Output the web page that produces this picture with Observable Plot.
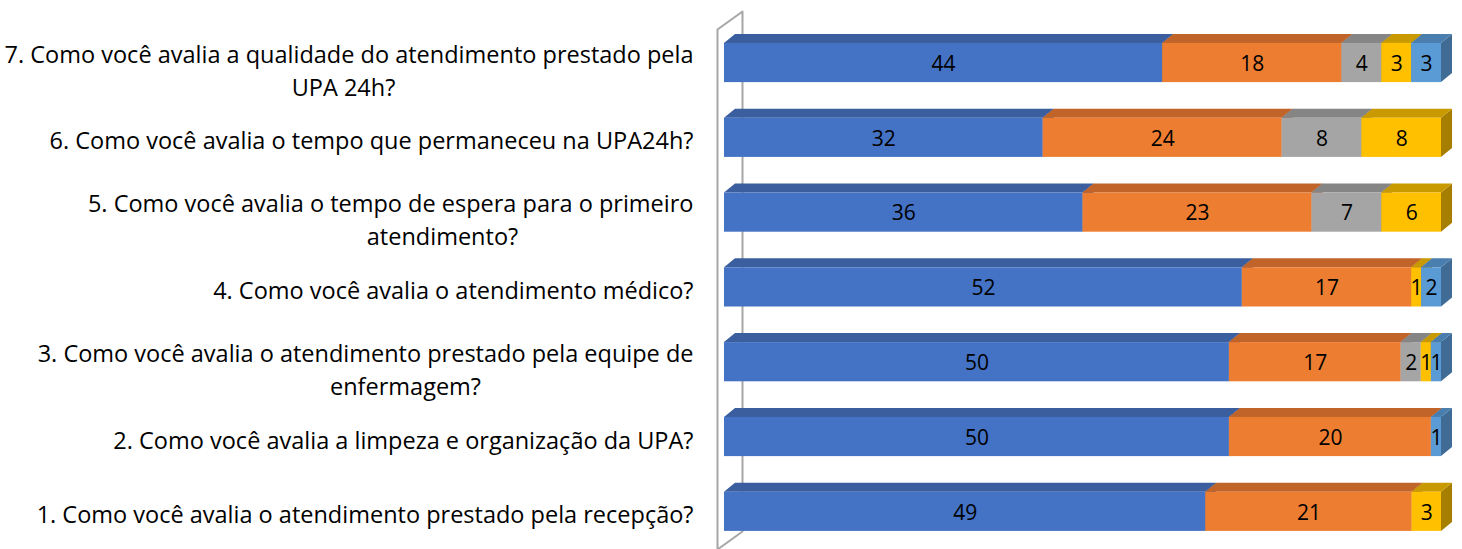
<!DOCTYPE html>
<html><head><meta charset="utf-8">
<script src="https://cdn.jsdelivr.net/npm/d3@7"></script>
<script src="https://cdn.jsdelivr.net/npm/@observablehq/plot@0.6"></script>
<style>html,body{margin:0;padding:0;background:#fff} #chart svg{display:block}</style>
</head><body><div id="chart"></div>
<script>
// ---------- data ----------
const questions = [
  "1. Como você avalia o atendimento prestado pela recepção?",
  "2. Como você avalia a limpeza e organização da UPA?",
  "3. Como você avalia o atendimento prestado pela equipe de\nenfermagem?",
  "4. Como você avalia o atendimento médico?",
  "5. Como você avalia o tempo de espera para o primeiro\natendimento?",
  "6. Como você avalia o tempo que permaneceu na UPA24h?",
  "7. Como você avalia a qualidade do atendimento prestado pela\nUPA 24h?"
];
const seriesNames = ["Série 1", "Série 2", "Série 3", "Série 4", "Série 5"];
const serie1 = [49, 50, 50, 52, 36, 32, 44];
const serie2 = [21, 20, 17, 17, 23, 24, 18];
const serie3 = [0, 0, 2, 0, 7, 8, 4];
const serie4 = [3, 0, 1, 1, 6, 8, 3];
const serie5 = [0, 1, 1, 2, 0, 0, 3];
const seriesValues = [serie1, serie2, serie3, serie4, serie5];

// ---------- style ----------
const frontColors = ["#4472C4", "#ED7D31", "#A5A5A5", "#FFC000", "#5B9BD5"];
const topColors   = ["#3A5E9E", "#C0642A", "#858585", "#C99A00", "#4A7EAE"];
const sideColors  = ["#2F4F87", "#A35424", "#6F6F6F", "#A67F00", "#3F6B94"];
// horizontal offset (px, relative to the bar origin) of centre of wrapped 2nd label lines
const line2Center = {2: -319, 4: -282, 6: -381};

// ---------- layout ----------
const W = 1462, H = 549, X0 = 724, X1 = 1441;
const pxPerUnitY = 74.8, yFirst = 511.3;
const yDomain = [(yFirst - H) / pxPerUnitY, yFirst / pxPerUnitY];
const halfH = 19.6 / pxPerUnitY;
const depthX = 11 / (X1 - X0), depthY = 9 / pxPerUnitY;
const xd = p => (p - X0) / (X1 - X0);
const yd = p => (yFirst - p) / pxPerUnitY;

// ---------- build geometry from data ----------
const fronts = [], tops = [], sides = [], labels = [];
questions.forEach((q, i) => {
  const vals = seriesValues.map(s => s[i]);
  const total = d3.sum(vals);
  let cum = 0;
  vals.forEach((v, k) => {
    if (v <= 0) return;
    const a = cum / total, b = (cum + v) / total;
    cum += v;
    const key = i + "-" + k;
    fronts.push({q: i, series: seriesNames[k], x1: a, x2: b, y1: i - halfH, y2: i + halfH, fill: frontColors[k], v, xm: (a + b) / 2, y: i});
    tops.push({key, y: i + halfH, x1: a, x2: b, fill: topColors[k]});
    tops.push({key, y: i + halfH + depthY, x1: a + depthX, x2: b + depthX, fill: topColors[k]});
    sides.push({key, x: b, y1: i - halfH, y2: i + halfH, fill: sideColors[k]});
    sides.push({key, x: b + depthX, y1: i - halfH + depthY, y2: i + halfH + depthY, fill: sideColors[k]});
  });
  const lines = q.split("\n");
  labels.push({y: i, line1: lines[0], line2: lines[1] || null, two: lines.length > 1, c2: line2Center[i] || 0});
});

const wallPx = [[717, 549], [717, 29], [742, 11], [742, 531], [717, 549]];
const wall = wallPx.map(([px, py]) => ({x: xd(px), y: yd(py)}));

const single = labels.filter(d => !d.two);
const double = labels.filter(d => d.two);
const labelFont = 23.5, numFont = 21;

const chart = Plot.plot({
  width: W, height: H,
  marginLeft: X0, marginRight: W - X1, marginTop: 0, marginBottom: 0,
  x: {domain: [0, 1], axis: null},
  y: {domain: yDomain, axis: null},
  color: {type: "identity"},
  style: {fontFamily: "'Open Sans', Lato, sans-serif", background: "white", overflow: "visible"},
  marks: [
    Plot.line(wall, {x: "x", y: "y", stroke: "#A6A6A6", strokeWidth: 2}),
    Plot.areaY(sides, {x: "x", y1: "y1", y2: "y2", z: "key", fill: "fill", curve: "linear"}),
    Plot.areaX(tops, {y: "y", x1: "x1", x2: "x2", z: "key", fill: "fill", curve: "linear"}),
    Plot.rect(fronts, {x1: "x1", x2: "x2", y1: "y1", y2: "y2", fill: "fill"}),
    Plot.text(fronts, {x: "xm", y: "y", text: "v", fill: "black", fontSize: numFont, dy: 1}),
    Plot.text(single, {x: () => 0, y: "y", text: "line1", textAnchor: "end", dx: -31, dy: 4, fontSize: labelFont, fill: "black"}),
    Plot.text(double, {x: () => 0, y: "y", text: "line1", textAnchor: "end", dx: -31, dy: -8, fontSize: labelFont, fill: "black"}),
    ...double.map(d => Plot.text([d], {x: () => 0, y: "y", text: "line2", textAnchor: "middle", dx: d.c2, dy: 25, fontSize: labelFont, fill: "black"}))
  ]
});
document.getElementById("chart").appendChild(chart);
</script>
</body></html>
